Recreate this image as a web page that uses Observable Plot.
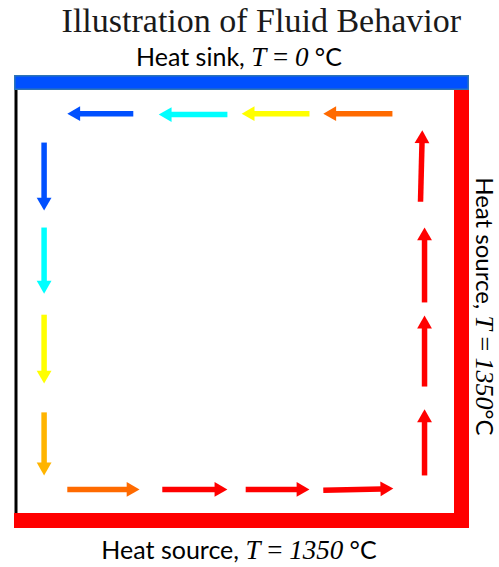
<!DOCTYPE html>
<html>
<head>
<meta charset="utf-8">
<script src="https://cdn.jsdelivr.net/npm/d3@7"></script>
<script src="https://cdn.jsdelivr.net/npm/@observablehq/plot@0.6"></script>
<style>
  body { margin: 0; background: #fff; }
  #chart svg { display: block; }
</style>
</head>
<body>
<div id="chart"></div>
<script>
// ---- data ----
const titleText = "Illustration of Fluid Behavior";
const sinkParts = [["Heat sink, ", "sans"], ["T", "it"], [" = ", "rm"], ["0", "it"], [" °C", "sans"]];
const bottomSourceParts = [["Heat source, ", "sans"], ["T", "it"], [" = ", "rm"], ["1350", "it"], [" °C", "sans"]];
const sideSourceParts = [["Heat source, ", "sans"], ["T", "it"], [" = ", "rm"], ["1350", "it"], ["°C", "sans"]];

// box (wall centre-lines) in data units
const boxX = [0, 10];
const boxY = [0, 10];

// fluid temperature stages and their colours
const stageNames = ["cold", "cool", "mild", "lukewarm", "warm", "hot"];
const stageColors = ["#0050ff", "#00ffff", "#ffff00", "#ffb400", "#ff6a00", "#ff0000"];

// arrows: tail -> tip, in data units
const tailX = [2.63, 4.74, 6.58, 8.44, 0.63, 0.63, 0.63, 0.63, 1.15, 3.28, 5.15, 6.89, 9.16, 9.16, 9.16, 9.07];
const tailY = [9.30, 9.28, 9.30, 9.30, 8.64, 6.70, 4.71, 2.48, 0.72, 0.72, 0.72, 0.70, 1.04, 3.07, 4.99, 7.29];
const tipX  = [1.15, 3.20, 5.06, 6.89, 0.63, 0.63, 0.63, 0.63, 2.77, 4.74, 6.58, 8.46, 9.16, 9.16, 9.16, 9.11];
const tipY  = [9.30, 9.28, 9.30, 9.30, 7.09, 5.19, 3.14, 1.04, 0.72, 0.72, 0.72, 0.74, 2.55, 4.69, 6.70, 8.92];
const arrowStage = ["cold", "cool", "mild", "warm",
                    "cold", "cool", "mild", "lukewarm",
                    "warm", "hot", "hot", "hot",
                    "hot", "hot", "hot", "hot"];

// ---- layout ----
const W = 499, H = 567;
const mL = 15.5, mR = 37.5, mT = 82.5, mB = 46.5;
const X = Plot.scale({x: {domain: boxX, range: [mL, W - mR]}});
const Y = Plot.scale({y: {domain: boxY, range: [H - mB, mT]}});

const headR = 5.5;
const apex = 2 * headR * Math.sqrt(Math.PI / (3 * Math.sqrt(3)));
const headLen = apex * 1.5;

const arrows = tailX.map((_, i) => {
  const tx = X.apply(tailX[i]), ty = Y.apply(tailY[i]);
  const hx = X.apply(tipX[i]), hy = Y.apply(tipY[i]);
  const dx = hx - tx, dy = hy - ty, L = Math.hypot(dx, dy);
  const ux = dx / L, uy = dy / L;
  return {
    x1: tailX[i], y1: tailY[i],
    sx: X.invert(hx - ux * (headLen - 1)), sy: Y.invert(hy - uy * (headLen - 1)),
    cx: X.invert(hx - ux * apex), cy: Y.invert(hy - uy * apex),
    angle: Math.atan2(ux, -uy) * 180 / Math.PI,
    stage: arrowStage[i]
  };
});

const join = (parts) => parts.map(p => p[0]).join("");
const labelParts = new Map([sinkParts, bottomSourceParts, sideSourceParts].map(p => [join(p), p]));

const chart = Plot.plot({
  width: W, height: H,
  marginLeft: mL, marginRight: mR, marginTop: mT, marginBottom: mB,
  x: {domain: boxX, axis: null},
  y: {domain: boxY, axis: null},
  color: {domain: stageNames, range: stageColors},
  marks: [
    // walls
    Plot.ruleX([boxX[0]], {y1: boxY[0], y2: boxY[1], stroke: "#000", strokeWidth: 3}),
    Plot.rect([0], {x1: boxX[0], x2: boxX[1], y1: boxY[0], y2: boxY[0], fill: "#ff0000",
      insetLeft: -1.5, insetTop: -7.5, insetBottom: -7.5}),
    Plot.rect([0], {x1: boxX[1], x2: boxX[1], y1: boxY[0], y2: boxY[1], fill: "#ff0000",
      insetLeft: -7.5, insetRight: -7.5, insetBottom: -7.5}),
    Plot.rect([0], {x1: boxX[0], x2: boxX[1], y1: boxY[1], y2: boxY[1], fill: "#0050ff",
      stroke: "#2e75b6", strokeWidth: 1.5,
      insetLeft: -0.75, insetRight: -6.75, insetTop: -6.75, insetBottom: -6.75}),
    // arrows
    Plot.link(arrows, {x1: "x1", y1: "y1", x2: "sx", y2: "sy", stroke: "stage", strokeWidth: 5.5}),
    Plot.dot(arrows, {x: "cx", y: "cy", symbol: "triangle", r: headR, rotate: "angle", fill: "stage", stroke: "none"}),
    // labels
    Plot.text([titleText], {text: d => d, x: 5.5, y: boxY[1], dy: -51.5, lineAnchor: "bottom",
      fontFamily: "Liberation Serif", fontSize: 34, fill: "#1a1a1a"}),
    Plot.text([join(sinkParts)], {text: d => d, x: 5, y: boxY[1], dy: -17.5, lineAnchor: "bottom",
      fontFamily: "Lato", fontSize: 25, fill: "#000"}),
    Plot.text([join(bottomSourceParts)], {text: d => d, x: 5, y: boxY[0], dy: 37.5, lineAnchor: "bottom",
      fontFamily: "Lato", fontSize: 25, fill: "#000"}),
    Plot.text([join(sideSourceParts)], {text: d => d, x: boxX[1], y: 4.9, dx: 22, rotate: 90, lineAnchor: "middle",
      fontFamily: "Lato", fontSize: 24, fill: "#000"})
  ]
});

// mixed-font labels: rebuild as tspans
const NS = "http://www.w3.org/2000/svg";
chart.querySelectorAll("text").forEach(t => {
  const parts = labelParts.get(t.textContent);
  if (!parts) return;
  const fs = +(t.getAttribute("font-size") || t.parentNode.getAttribute("font-size") || 25);
  t.textContent = "";
  for (const [s, kind] of parts) {
    const ts = document.createElementNS(NS, "tspan");
    ts.textContent = s;
    if (kind !== "sans") {
      ts.setAttribute("font-family", "Liberation Serif");
      ts.setAttribute("font-size", String(Math.round(fs * 1.08)));
      if (kind === "it") ts.setAttribute("font-style", "italic");
    }
    t.appendChild(ts);
  }
});

document.getElementById("chart").appendChild(chart);
</script>
</body>
</html>
